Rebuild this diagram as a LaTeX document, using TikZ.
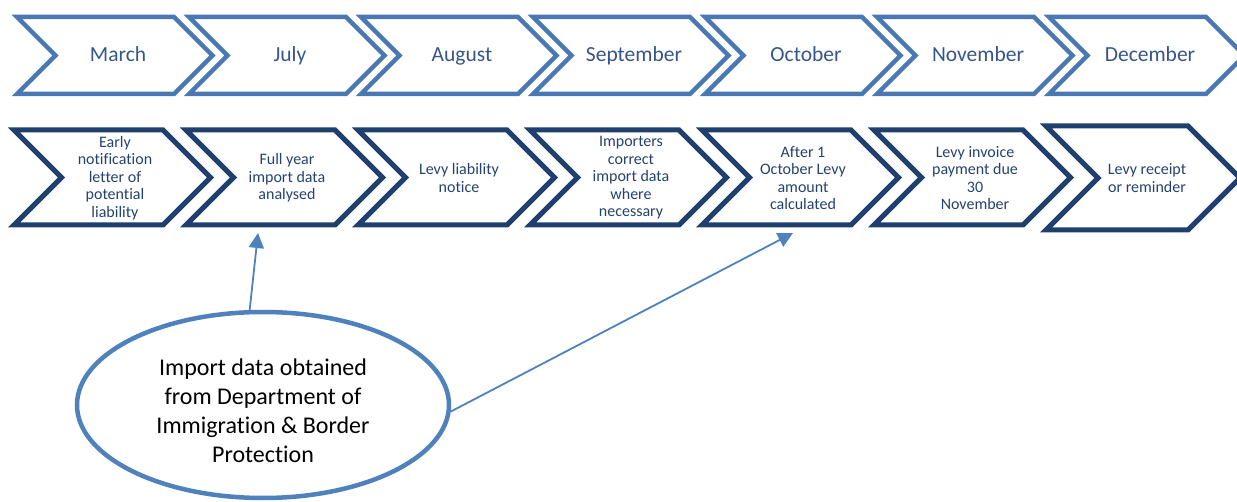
\documentclass[tikz,border=0pt]{standalone}
\usepackage{fontspec}
\setmainfont{Carlito}[Ligatures={NoCommon,NoContextual}]
\usetikzlibrary{shapes.geometric,arrows.meta}
\definecolor{topblue}{HTML}{4A78B4}
\definecolor{navy}{HTML}{1F3F6F}
\definecolor{monthtxt}{HTML}{36568A}
\definecolor{labeltxt}{HTML}{24426F}
\definecolor{ellblue}{HTML}{4F81BD}
\begin{document}
\begin{tikzpicture}[x=1pt,y=-1pt,
  topchev/.style={draw=topblue, line width=4.5pt, line join=miter},
  botchev/.style={draw=navy, line width=5pt, line join=miter},
  month/.style={font=\fontsize{21.5}{26}\selectfont, text=monthtxt, anchor=base, inner sep=0pt},
  lbl/.style={font=\fontsize{16}{17.5}\selectfont, text=labeltxt, align=center, inner sep=0pt},
  srcshape/.style={ellipse, draw=ellblue, line width=4.5pt, minimum width=372pt, minimum height=186pt, inner sep=0pt},
  srclbl/.style={font=\fontsize{24}{29}\selectfont, text=black, align=center, inner sep=0pt},
  conn/.style={draw=ellblue, line width=1.8pt, -{Triangle[length=15pt,width=15pt]}}]
\useasboundingbox (0,0) rectangle (1237,502);
\clip (0,0) rectangle (1237,502);
% top row: months
\foreach \i/\t in {0/March,1/July,2/August,3/September,4/October,5/November,6/December} {
  \pgfmathsetmacro\L{17+172*\i}
  \draw[topchev] (\L,17) -- (\L+157,17) -- (\L+195.5,55.5) -- (\L+157,94) -- (\L,94) -- (\L+38.5,55.5) -- cycle;
  \node[month] (m\i) at (\L+101,62) {\t};
}
% bottom row: steps
\foreach \i/\t in {0/{Early\\notification\\letter of\\potential\\liability},
                   1/{Full year\\import data\\analysed},
                   2/{Levy liability\\notice},
                   3/{Importers\\correct\\import data\\where\\necessary},
                   4/{After 1\\October Levy\\amount\\calculated},
                   5/{Levy invoice\\payment due\\30\\November}} {
  \pgfmathsetmacro\L{14+172*\i}
  \draw[botchev] (\L,130) -- (\L+149,130) -- (\L+196.5,177.5) -- (\L+149,225) -- (\L,225) -- (\L+47.5,177.5) -- cycle;
  \node[lbl] (b\i) at (\L+101,178) {\t};
}
\draw[botchev] (1046,126) -- (1188,126) -- (1240,178) -- (1188,230) -- (1046,230) -- (1098,178) -- cycle;
\node[lbl] (b6) at (1147,178) {Levy receipt\\or reminder};
% source ellipse
\node[srcshape] (src) at (263,405) {};
\node[srclbl] (srctext) at (263,411) {Import data obtained\\from Department of\\Immigration \& Border\\Protection};
\coordinate (tipA) at (258,233);
\coordinate (tipB) at (793,233);
\draw[conn] (src.98) -- (tipA);
\draw[conn] (src.-2) -- (tipB);
\end{tikzpicture}
\end{document}
